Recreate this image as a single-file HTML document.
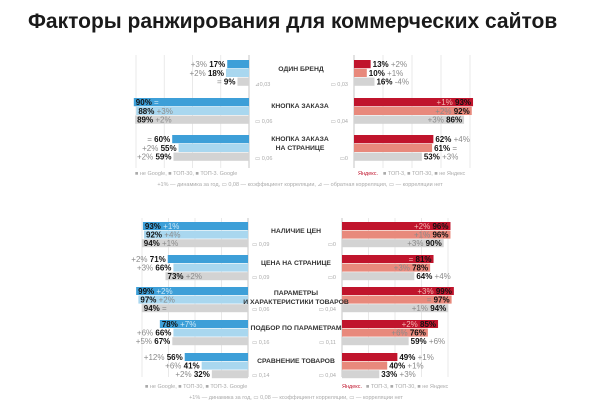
<!DOCTYPE html>
<html><head><meta charset="utf-8"><style>
html,body{margin:0;padding:0;background:#fff;}
svg{display:block;font-family:"Liberation Sans",sans-serif;}
</style></head><body>
<svg id="s" width="604" height="410" viewBox="0 0 604 410" xmlns="http://www.w3.org/2000/svg">
<text x="28" y="28" font-size="21" font-weight="bold" fill="#1a1a1a">Факторы ранжирования для коммерческих сайтов</text>
</svg>
<script>
const S=document.getElementById('s');const NS='http://www.w3.org/2000/svg';
function el(t,a,txt){const e=document.createElementNS(NS,t);for(const k in a)e.setAttribute(k,a[k]);if(txt!==undefined)e.textContent=txt;S.appendChild(e);return e;}
const BL=['#3d9fd8','#a9d7ef','#d3d3d3'],RD=['#c0142c','#e8897c','#d3d3d3'];
function grid(x0,x1,y0,y1,n){for(let i=0;i<=n;i++){const x=x0+(x1-x0)*i/n;el('line',{x1:x,x2:x,y1:y0,y2:y1,stroke:'#e4e4e4','stroke-width':0.8});}}
function val(x,y,anchor,num,chg,numFirst,cc){
 const t=el('text',{x:x,y:y,'font-size':8,'text-anchor':anchor});
 const a=document.createElementNS(NS,'tspan'),b=document.createElementNS(NS,'tspan');
 a.setAttribute('font-weight','bold');a.setAttribute('fill','#111');a.textContent=num;
 b.setAttribute('fill',cc||'#8a8a8a');
 if(numFirst){b.textContent=' '+chg;t.appendChild(a);t.appendChild(b);}else{b.textContent=chg+' ';t.appendChild(b);t.appendChild(a);}
}
function side(axis,scale,ys,bh,data,left,cols){
 data.forEach((g,gi)=>{g.forEach((r,ri)=>{
  const [v,chg,inside]=r;const w=v/100*scale;const y=ys[gi]+ri*bh;
  const x=left?axis-w:axis;el('rect',{x:x,y:y,width:w,height:bh-0.6,fill:cols[ri]});
  const ty=y+bh-1.8;const num=v+'%';
  let cc=null;if(inside&&ri==0)cc=left?'#cde8f7':'#f3b8b2';
  if(left){ if(inside)val(x+2,ty,'start',num,chg,true,cc); else val(x-2,ty,'end',num,chg,false);}
  else{ if(inside)val(axis+w-2,ty,'end',num,chg,false,cc); else val(axis+w+2,ty,'start',num,chg,true);}
 });});
}
grid(136,249,55,168,4);grid(354,470,55,168,4);
el('line',{x1:249,x2:249,y1:55,y2:168,stroke:'#bbb','stroke-width':0.8});
el('line',{x1:354,x2:354,y1:55,y2:168,stroke:'#bbb','stroke-width':0.8});
side(249,128,[60,98,135],8.8,[
 [[17,'+3%'],[18,'+2%'],[9,'=']],
 [[90,'=',1],[88,'+3%',1],[89,'+2%',1]],
 [[60,'='],[55,'+2%'],[59,'+2%']]],true,BL);
side(354,128,[60,98,135],8.8,[
 [[13,'+2%'],[10,'+1%'],[16,'-4%']],
 [[93,'+1%',1],[92,'+2%',1],[86,'+3%',1]],
 [[62,'+4%'],[61,'='],[53,'+3%']]],false,RD);
const lab=(x,y,t)=>el('text',{x:x,y:y,'font-size':6.8,'font-weight':'bold','text-anchor':'middle',fill:'#333'},t);
lab(301,71,'ОДИН БРЕНД');lab(300,108,'КНОПКА ЗАКАЗА');lab(300,141,'КНОПКА ЗАКАЗА');lab(300,150,'НА СТРАНИЦЕ');
const sm=(x,y,t,a)=>el('text',{x:x,y:y,'font-size':5.5,fill:'#aaa','text-anchor':a||'start'},t);
sm(255,86,'⊿0,03');sm(255,123,'▭ 0,06');sm(255,160,'▭ 0,06');
sm(348,86,'▭ 0,03','end');sm(348,123,'▭ 0,04','end');sm(348,160,'▭0','end');
sm(135,175,'■ не Google, ■ ТОП-30, ■ ТОП-3. Google');
el('text',{x:358,y:175,'font-size':5.5,fill:'#c0142c'},'Яндекс.');sm(383,175,'■ ТОП-3, ■ ТОП-30, ■ не Яндекс');
sm(300,186,'+1% — динамика за год, ▭ 0,08 — коэффициент корреляции, ⊿ — обратная корреляция, ▭ — корреляции нет','middle');
grid(142,248,218,377,4);grid(342,448,218,377,4);
el('line',{x1:248,x2:248,y1:218,y2:377,stroke:'#bbb','stroke-width':0.8});
el('line',{x1:342,x2:342,y1:218,y2:377,stroke:'#bbb','stroke-width':0.8});
const YB=[222,255,287,320,353];
side(248,113,YB,8.6,[
 [[93,'+1%',1],[92,'+4%',1],[94,'+1%',1]],
 [[71,'+2%'],[66,'+3%'],[73,'+2%',1]],
 [[99,'+2%',1],[97,'+2%',1],[94,'=',1]],
 [[78,'+7%',1],[66,'+6%'],[67,'+5%']],
 [[56,'+12%'],[41,'+6%'],[32,'+2%']]],true,BL);
side(342,113,YB,8.6,[
 [[96,'+2%',1],[96,'+1%',1],[90,'+3%',1]],
 [[81,'=',1],[78,'+3%',1],[64,'+4%']],
 [[99,'+3%',1],[97,'=',1],[94,'+1%',1]],
 [[85,'+2%',1],[76,'+6%',1],[59,'+6%']],
 [[49,'+1%'],[40,'+1%'],[33,'+3%']]],false,RD);
lab(296,233,'НАЛИЧИЕ ЦЕН');lab(296,265,'ЦЕНА НА СТРАНИЦЕ');lab(296,295,'ПАРАМЕТРЫ');lab(296,304,'И ХАРАКТЕРИСТИКИ ТОВАРОВ');
lab(296,330,'ПОДБОР ПО ПАРАМЕТРАМ');lab(296,363,'СРАВНЕНИЕ ТОВАРОВ');
['0,09','0,09','0,06','0,16','0,14'].forEach((t,i)=>sm(252,YB[i]+24,'▭ '+t));
['▭0','▭0','▭ 0,04','▭ 0,11','▭ 0,04'].forEach((t,i)=>sm(336,YB[i]+24,t,'end'));
sm(145,388,'■ не Google, ■ ТОП-30, ■ ТОП-3. Google');
el('text',{x:342,y:388,'font-size':5.5,fill:'#c0142c'},'Яндекс.');sm(366,388,'■ ТОП-3, ■ ТОП-30, ■ не Яндекс');
sm(296,399,'+1% — динамика за год, ▭ 0,08 — коэффициент корреляции, ▭ — корреляции нет','middle');
</script>
</body></html>
